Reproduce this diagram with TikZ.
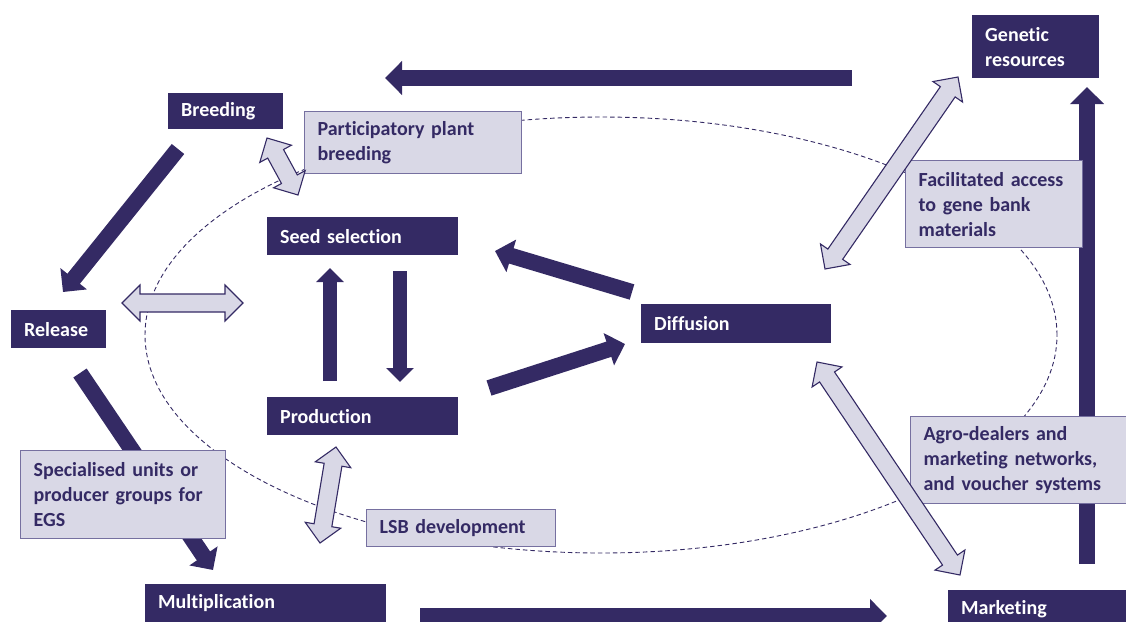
\documentclass[tikz,border=0pt]{standalone}
\usepackage{fontspec}
\setmainfont{Carlito}[Ligatures=NoCommon, Contextuals=NoAlternate]
\usetikzlibrary{arrows.meta,calc}
\definecolor{navy}{HTML}{342A64}
\definecolor{lightf}{HTML}{D9D8E6}
\definecolor{lborder}{HTML}{7670A0}
\tikzset{
  base/.style={anchor=north west, inner xsep=13pt, inner ysep=0pt, align=left,
    font=\bfseries\fontsize{20}{25}\selectfont},
  dbox/.style={base, fill=navy, text=white},
  lbox/.style={base, fill=lightf, draw=lborder, line width=1.2pt, text=navy},
  darr/.style={navy, line width=16pt, -{Triangle[length=17pt,width=33pt]}},
  sarr/.style={navy, line width=14pt, -{Triangle[length=14pt,width=27pt]}},
  larr/.style={fill=lightf, draw=navy, line width=1.1pt, line join=miter},
  ell/.style={navy, dash pattern=on 4.5pt off 3pt, line width=0.9pt},
}
\newcommand\dblarr[2]{%
  \draw[larr] (#1)
  -- ($(#1)!18pt!(#2)!18pt!90:(#2)$) -- ($(#1)!18pt!(#2)!9pt!90:(#2)$)
  -- ($(#2)!18pt!(#1)!9pt!-90:(#1)$) -- ($(#2)!18pt!(#1)!18pt!-90:(#1)$)
  -- (#2)
  -- ($(#2)!18pt!(#1)!18pt!90:(#1)$) -- ($(#2)!18pt!(#1)!9pt!90:(#1)$)
  -- ($(#1)!18pt!(#2)!9pt!-90:(#2)$) -- ($(#1)!18pt!(#2)!18pt!-90:(#2)$)
  -- cycle;}
\begin{document}
\begin{tikzpicture}[x=1pt,y=-1pt]
\useasboundingbox (0,0) rectangle (1126,621);
\clip (0,0) rectangle (1126,621);
% dashed ellipse
\draw[ell] (601,335) ellipse [x radius=456pt, y radius=218pt];

% arrow end points
\coordinate (t1) at (852,78);   \coordinate (t2) at (385,78);
\coordinate (b1) at (178,149);  \coordinate (b2) at (63,292);
\coordinate (r1) at (80,373);   \coordinate (r2) at (213,570);
\coordinate (u1) at (330,381);  \coordinate (u2) at (330,268);
\coordinate (d1) at (400,271);  \coordinate (d2) at (400,382);
\coordinate (f1) at (632,292);  \coordinate (f2) at (495,251);
\coordinate (p1) at (489,388);  \coordinate (p2) at (625,344);
\coordinate (m1) at (420,616);  \coordinate (m2) at (887,616);
\coordinate (k1) at (1087,564); \coordinate (k2) at (1087,87);

\coordinate (la1) at (267,138); \coordinate (la2) at (298,195);
\coordinate (lb1) at (122,303); \coordinate (lb2) at (243,303);
\coordinate (lc1) at (958,77);  \coordinate (lc2) at (825,269);
\coordinate (ld1) at (336,447); \coordinate (ld2) at (320,543);
\coordinate (le1) at (817,362); \coordinate (le2) at (960,575);

% dark arrows
\draw[darr] (t1) -- (t2);
\draw[darr] (b1) -- (b2);
\draw[darr] (r1) -- (r2);
\draw[sarr] (u1) -- (u2);
\draw[sarr] (d1) -- (d2);
\draw[darr] (f1) -- (f2);
\draw[darr] (p1) -- (p2);
\draw[darr] (m1) -- (m2);
\draw[darr] (k1) -- (k2);

% boxes
\node[dbox, text width=89pt,  minimum height=36pt] (breed) at (168,93) {Breeding};
\node[lbox, text width=191pt, minimum height=62pt] (ppb) at (304,111) {Participatory plant\\breeding};
\node[dbox, text width=101pt, minimum height=63pt] (gen) at (972,15) {Genetic\\resources};
\node[dbox, text width=165pt, minimum height=38pt] (seed) at (267,217) {Seed selection};
\node[dbox, text width=69pt,  minimum height=38pt] (rel) at (11,310) {Release};
\node[dbox, text width=164pt, minimum height=39pt] (diff) at (641,304) {Diffusion};
\node[lbox, text width=151pt, minimum height=87pt] (fac) at (905,160) {Facilitated access\\to gene bank\\materials};
\node[dbox, text width=165pt, minimum height=38pt] (prod) at (267,397) {Production};
\node[lbox, text width=210pt, minimum height=87pt] (agro) at (910,416) {Agro-dealers and\\marketing networks,\\and voucher systems};
\node[lbox, text width=179pt, minimum height=88pt] (spec) at (20,450) {Specialised units or\\producer groups for\\EGS};
\node[lbox, text width=163pt, minimum height=37pt] (lsb) at (366,509) {LSB development};
\node[dbox, text width=215pt, minimum height=38pt] (mult) at (145,584) {Multiplication};
\node[dbox, text width=180pt, minimum height=38pt] (mkt) at (948,590) {Marketing};

% light double arrows
\dblarr{la1}{la2}
\dblarr{lb1}{lb2}
\dblarr{lc1}{lc2}
\dblarr{ld1}{ld2}
\dblarr{le1}{le2}
\end{tikzpicture}
\end{document}
